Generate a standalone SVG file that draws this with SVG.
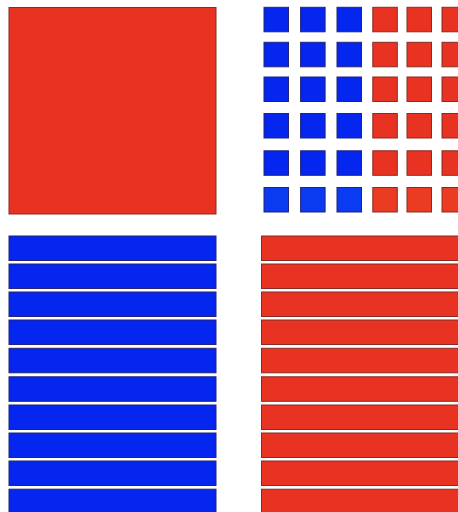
<svg xmlns="http://www.w3.org/2000/svg" width="458" height="512" viewBox="0 0 458 512">
<style>
.r{fill:#E83323;stroke:#8A2A22;stroke-width:1}
.b{fill:#0426EE;stroke:#23237A;stroke-width:1}
.r2{fill:#EA3C22;stroke:#8A2A22;stroke-width:1}
.b2{fill:#0A3BF0;stroke:#23237A;stroke-width:1}
</style>
<defs>
<rect id="sr" class="r" width="24.5" height="24.5"/>
<rect id="sb" class="b" width="24.5" height="24.5"/>
<rect id="sr2" class="r2" width="24.5" height="24.5"/>
<rect id="sb2" class="b2" width="24.5" height="24.5"/>
<rect id="lb" class="b" x="9" width="207" height="24.5"/>
<rect id="rr" class="r" x="261.5" width="210" height="24.5"/>
</defs>
<rect width="458" height="512" fill="#ffffff"/>
<g id="big-square">
<rect class="r" x="9" y="7.5" width="207" height="206.5"/>
</g>
<g id="small-squares">
<g id="row1" transform="translate(0,7.3)">
<use href="#sb" x="264"/><use href="#sb" x="300.6"/><use href="#sb" x="337"/><use href="#sr" x="372.8"/><use href="#sr" x="407"/><use href="#sr" x="442"/>
</g>
<g id="row2" transform="translate(0,42.3)">
<use href="#sb" x="264"/><use href="#sb" x="300.6"/><use href="#sb" x="337"/><use href="#sr" x="372.8"/><use href="#sr" x="407"/><use href="#sr" x="442"/>
</g>
<g id="row3" transform="translate(0,77)">
<use href="#sb" x="264"/><use href="#sb" x="300.6"/><use href="#sb" x="337"/><use href="#sr" x="372.8"/><use href="#sr" x="407"/><use href="#sr" x="442"/>
</g>
<g id="row4" transform="translate(0,113.5)">
<use href="#sb" x="264"/><use href="#sb" x="300.6"/><use href="#sb" x="337"/><use href="#sr" x="372.8"/><use href="#sr" x="407"/><use href="#sr" x="442"/>
</g>
<g id="row5" transform="translate(0,150.8)">
<use href="#sb" x="264"/><use href="#sb" x="300.6"/><use href="#sb" x="337"/><use href="#sr" x="372.8"/><use href="#sr" x="407"/><use href="#sr" x="442"/>
</g>
<g id="row6" transform="translate(0,187.5)">
<use href="#sb2" x="264"/><use href="#sb2" x="300.6"/><use href="#sb2" x="337"/><use href="#sr2" x="372.8"/><use href="#sr2" x="407"/><use href="#sr2" x="442"/>
</g>
</g>
<g id="blue-bars">
<use href="#lb" y="236"/><use href="#lb" y="264"/><use href="#lb" y="292"/><use href="#lb" y="320"/><use href="#lb" y="348.3"/><use href="#lb" y="376.8"/><use href="#lb" y="405"/><use href="#lb" y="433"/><use href="#lb" y="461"/><use href="#lb" y="489.2"/>
</g>
<g id="red-bars">
<use href="#rr" y="236"/><use href="#rr" y="264"/><use href="#rr" y="292"/><use href="#rr" y="320"/><use href="#rr" y="348.3"/><use href="#rr" y="376.8"/><use href="#rr" y="405"/><use href="#rr" y="433"/><use href="#rr" y="461"/><use href="#rr" y="489.2"/>
</g>
</svg>
